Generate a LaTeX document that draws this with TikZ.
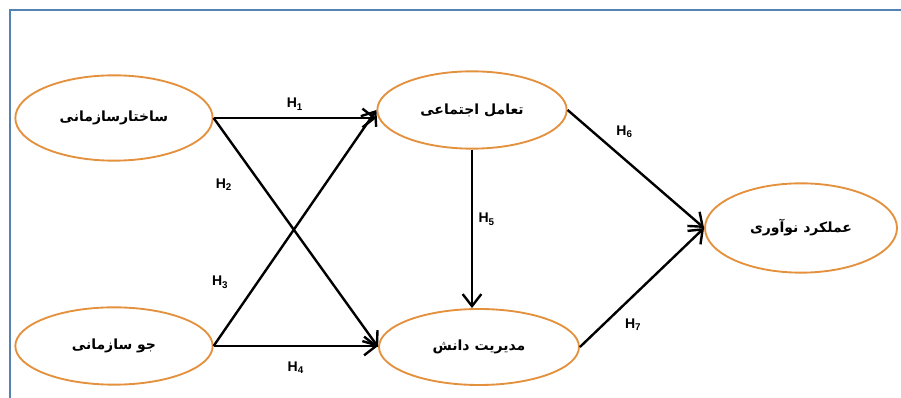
\documentclass[tikz,border=0pt]{standalone}
\usepackage{fontspec}
\setsansfont{Liberation Sans}
\newfontfamily\farsi[Script=Arabic]{DejaVu Sans}
\TeXXeTstate=1
\usetikzlibrary{arrows.meta,shapes.geometric}
\definecolor{framecol}{RGB}{84,130,180}
\definecolor{ovalcol}{RGB}{228,145,62}

\def\fa#1{{\farsi\bfseries\beginR #1\endR}}

\begin{document}
\begin{tikzpicture}[x=0.75pt,y=-0.75pt,
    oval/.style={draw=ovalcol, line width=1.4pt, ellipse, minimum width=#1, inner sep=0pt, font=\fontsize{10.5}{12}\selectfont},
    oval/.default=148pt,
    hpath/.style={line width=1.8pt, -{Straight Barb[length=9pt,width=14pt,line width=1.8pt]}},
    hyp/.style={font=\sffamily\bfseries\fontsize{10.5}{12}\selectfont, inner sep=1pt}]
  \useasboundingbox (0,0) rectangle (901,398);
  \draw[framecol, line width=1.5pt] (901,10) -| (10,398);

  % constructs
  \node[oval, minimum height=64pt] (struct) at (114,118) {\fa{ساختارسازمانی}};
  \node[oval, minimum height=58pt] (clim) at (114,346) {\fa{جو سازمانی}};
  \node[oval=142pt, minimum height=58pt] (inter) at (472,110) {\fa{تعامل اجتماعی}};
  \node[oval=150pt, minimum height=57pt] (know) at (479,347) {\fa{مدیریت دانش}};
  \node[oval=144pt, minimum height=67pt] (innov) at (801,228) {\fa{عملکرد نوآوری}};

  % hypotheses
  \draw[hpath] (struct.east) -- node[hyp, above=4pt] {H\textsubscript{1}} (struct.east -| inter.west);
  \draw[hpath] (struct.east) -- node[hyp, pos=0.29, left=20pt] {H\textsubscript{2}} (know.west);
  \draw[hpath] (clim.east) -- node[hyp, pos=0.27, left=20pt] {H\textsubscript{3}} (inter.west);
  \draw[hpath] (clim.east) -- node[hyp, below=10pt] {H\textsubscript{4}} (clim.east -| know.west);
  \draw[hpath] (inter.south) -- node[hyp, pos=0.44, right=3pt] {H\textsubscript{5}} (inter.south |- know.north);
  \draw[hpath] (inter.east) -- node[hyp, pos=0.3, above right=4pt] {H\textsubscript{6}} (innov.west);
  \draw[hpath] (know.east) -- node[hyp, pos=0.3, below right=4pt] {H\textsubscript{7}} (innov.west);
\end{tikzpicture}
\end{document}
